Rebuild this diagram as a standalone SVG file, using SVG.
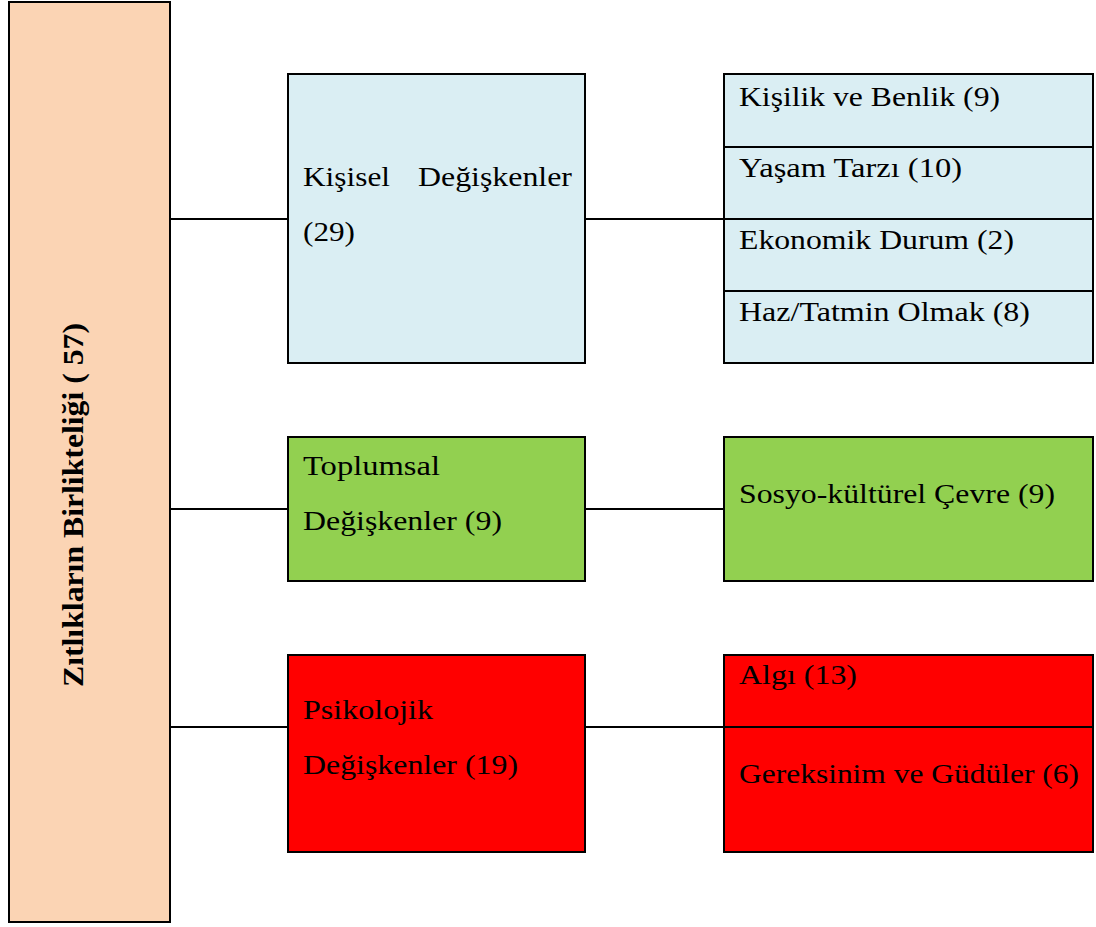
<svg xmlns="http://www.w3.org/2000/svg" width="1096" height="927" viewBox="0 0 1096 927">
<style>
.box{stroke:#000;stroke-width:2}
.t{font-family:"Liberation Serif","Times New Roman",serif;font-size:28px;fill:#000}
.b{font-family:"Liberation Serif","Times New Roman",serif;font-size:30px;font-weight:bold;fill:#000}
.c{stroke:#000;stroke-width:2;fill:none}
</style>
<rect width="1096" height="927" fill="#fff"/>
<g id="connectors">
<line class="c" x1="170" y1="219" x2="288" y2="219"/>
<line class="c" x1="585" y1="219" x2="724" y2="219"/>
<line class="c" x1="170" y1="509" x2="288" y2="509"/>
<line class="c" x1="585" y1="509" x2="724" y2="509"/>
<line class="c" x1="170" y1="727" x2="288" y2="727"/>
<line class="c" x1="585" y1="727" x2="724" y2="727"/>
</g>
<g id="root">
<rect class="box" x="9" y="2" width="161" height="920" fill="#FBD4B4"/>
<text class="b" transform="translate(83,505) rotate(-90)" text-anchor="middle" textLength="364" lengthAdjust="spacingAndGlyphs">Zıtlıkların Birlikteliği ( 57)</text>
</g>
<g id="kisisel">
<rect class="box" x="288" y="74" width="297" height="289" fill="#DAEEF3"/>
<text class="t" x="303" y="186" textLength="87" lengthAdjust="spacingAndGlyphs">Kişisel</text>
<text class="t" x="418" y="186" textLength="154" lengthAdjust="spacingAndGlyphs">Değişkenler</text>
<text class="t" x="303" y="241" textLength="52" lengthAdjust="spacingAndGlyphs">(29)</text>
</g>
<g id="kisisel-alt">
<rect class="box" x="724" y="74" width="369" height="289" fill="#DAEEF3"/>
<line class="c" x1="724" y1="147" x2="1093" y2="147"/>
<line class="c" x1="724" y1="219" x2="1093" y2="219"/>
<line class="c" x1="724" y1="291" x2="1093" y2="291"/>
<text class="t" x="739" y="106" textLength="261" lengthAdjust="spacingAndGlyphs">Kişilik ve Benlik (9)</text>
<text class="t" x="739" y="177" textLength="223" lengthAdjust="spacingAndGlyphs">Yaşam Tarzı (10)</text>
<text class="t" x="739" y="249" textLength="275" lengthAdjust="spacingAndGlyphs">Ekonomik Durum (2)</text>
<text class="t" x="739" y="321" textLength="291" lengthAdjust="spacingAndGlyphs">Haz/Tatmin Olmak (8)</text>
</g>
<g id="toplumsal">
<rect class="box" x="288" y="437" width="297" height="144" fill="#92D050"/>
<text class="t" x="303" y="475" textLength="137" lengthAdjust="spacingAndGlyphs">Toplumsal</text>
<text class="t" x="303" y="530" textLength="199" lengthAdjust="spacingAndGlyphs">Değişkenler (9)</text>
</g>
<g id="sosyo">
<rect class="box" x="724" y="437" width="369" height="144" fill="#92D050"/>
<text class="t" x="739" y="503" textLength="316" lengthAdjust="spacingAndGlyphs">Sosyo-kültürel Çevre (9)</text>
</g>
<g id="psikolojik">
<rect class="box" x="288" y="655" width="297" height="197" fill="#FF0000"/>
<text class="t" x="303" y="719" textLength="130" lengthAdjust="spacingAndGlyphs">Psikolojik</text>
<text class="t" x="303" y="774" textLength="215" lengthAdjust="spacingAndGlyphs">Değişkenler (19)</text>
</g>
<g id="psikolojik-alt">
<rect class="box" x="724" y="655" width="369" height="197" fill="#FF0000"/>
<line class="c" x1="724" y1="727" x2="1093" y2="727"/>
<text class="t" x="739" y="684" textLength="118" lengthAdjust="spacingAndGlyphs">Algı (13)</text>
<text class="t" x="739" y="783" textLength="340" lengthAdjust="spacingAndGlyphs">Gereksinim ve Güdüler (6)</text>
</g>
</svg>
